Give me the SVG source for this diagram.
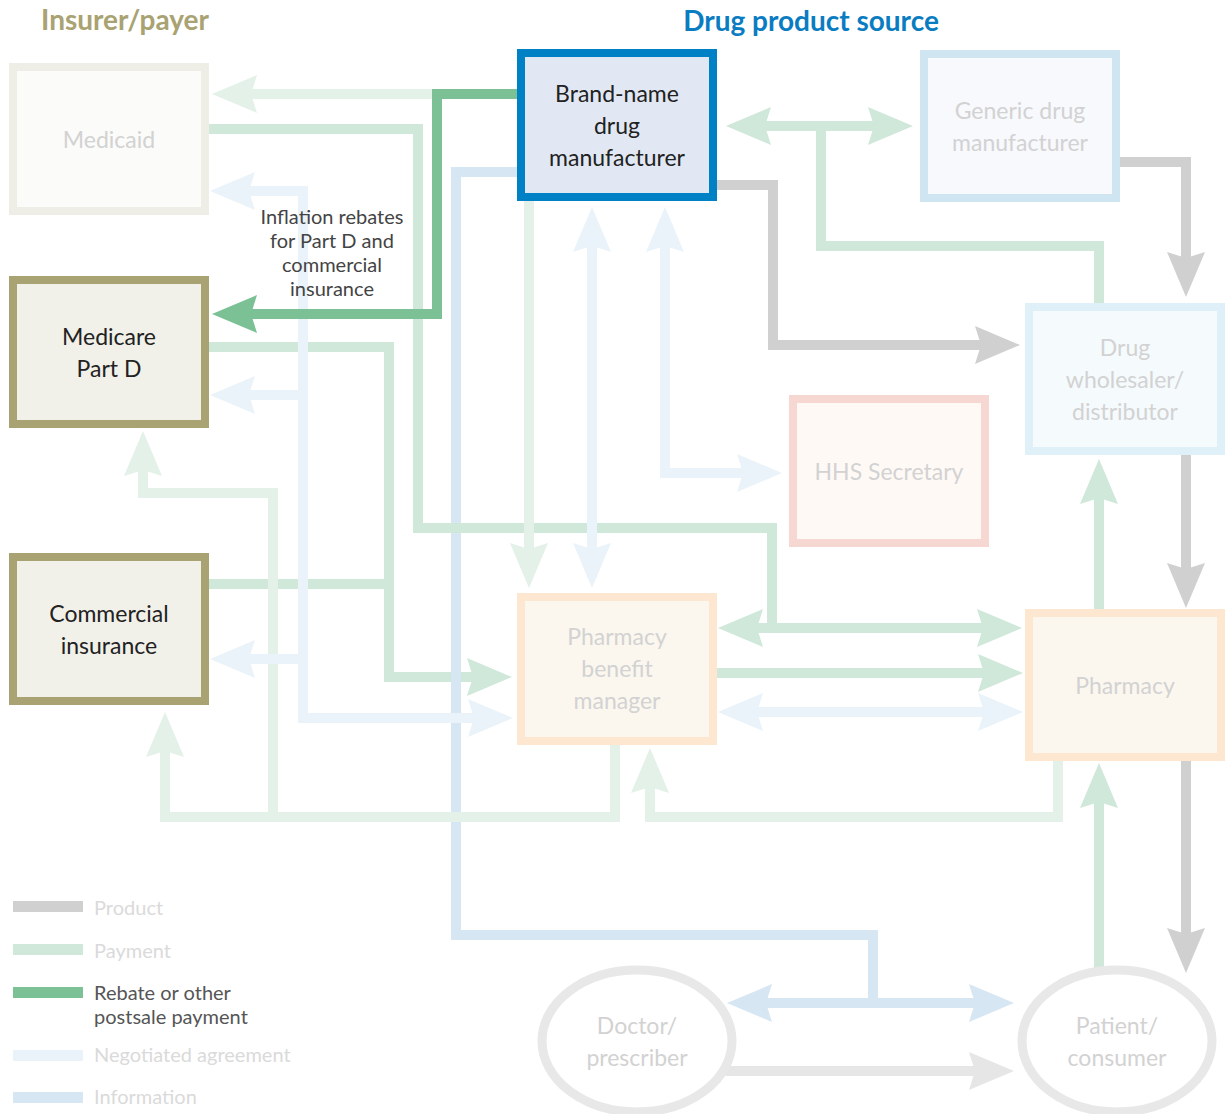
<svg xmlns="http://www.w3.org/2000/svg" width="1225" height="1114" viewBox="0 0 1225 1114">
<style>
text{font-family:Lato,"Open Sans","Liberation Sans",sans-serif}
.c{fill:none;stroke-width:10}
.p1{stroke:#d0d0d0}.p2{stroke:#e6e6e6}.g1{stroke:#cfe8da}.g2{stroke:#e3f1e8}.r{stroke:#7bc195}.n{stroke:#eaf3f9}.i{stroke:#d7e6f3}
.t{font-size:23px;text-anchor:middle}
.dk{fill:#222}.lt{fill:#d2d2d2}
.leg{font-size:20px;fill:#dadada}
.nb{stroke-width:8}
</style>
<defs>
<marker id="ap1" markerUnits="userSpaceOnUse" viewBox="0 -20 46 40" refX="8" refY="0" markerWidth="46" markerHeight="40" orient="auto-start-reverse"><path d="M0,-19L45,0L0,19L6,0Z" fill="#d0d0d0"/></marker>
<marker id="ap2" markerUnits="userSpaceOnUse" viewBox="0 -20 46 40" refX="8" refY="0" markerWidth="46" markerHeight="40" orient="auto-start-reverse"><path d="M0,-19L45,0L0,19L6,0Z" fill="#e6e6e6"/></marker>
<marker id="ag1" markerUnits="userSpaceOnUse" viewBox="0 -20 46 40" refX="8" refY="0" markerWidth="46" markerHeight="40" orient="auto-start-reverse"><path d="M0,-19L45,0L0,19L6,0Z" fill="#cfe8da"/></marker>
<marker id="ag2" markerUnits="userSpaceOnUse" viewBox="0 -20 46 40" refX="8" refY="0" markerWidth="46" markerHeight="40" orient="auto-start-reverse"><path d="M0,-19L45,0L0,19L6,0Z" fill="#e3f1e8"/></marker>
<marker id="ar" markerUnits="userSpaceOnUse" viewBox="0 -20 46 40" refX="8" refY="0" markerWidth="46" markerHeight="40" orient="auto-start-reverse"><path d="M0,-19L45,0L0,19L6,0Z" fill="#7bc195"/></marker>
<marker id="an" markerUnits="userSpaceOnUse" viewBox="0 -20 46 40" refX="8" refY="0" markerWidth="46" markerHeight="40" orient="auto-start-reverse"><path d="M0,-19L45,0L0,19L6,0Z" fill="#eaf3f9"/></marker>
<marker id="ai" markerUnits="userSpaceOnUse" viewBox="0 -20 46 40" refX="8" refY="0" markerWidth="46" markerHeight="40" orient="auto-start-reverse"><path d="M0,-19L45,0L0,19L6,0Z" fill="#d7e6f3"/></marker>
</defs>
<rect width="1225" height="1114" fill="#fff"/>
<text x="125" y="30" style="font-size:28px;font-weight:bold;fill:#a9a272;text-anchor:middle">Insurer/payer</text>
<text x="811" y="31" style="font-size:28px;font-weight:bold;fill:#0a7cc1;text-anchor:middle">Drug product source</text>
<g id="connectors">
<path class="c g1" d="M209,347H389V677H475" marker-end="url(#ag1)"/>
<path class="c g1" d="M209,584H389"/>
<path class="c g1" d="M717,673H986" marker-end="url(#ag1)"/>
<path class="c g1" d="M763,126H876" marker-start="url(#ag1)" marker-end="url(#ag1)"/>
<path class="c g1" d="M1099,303V246H821V126"/>
<path class="c g1" d="M1099,609V496" marker-end="url(#ag1)"/>
<path class="c g1" d="M1099,968V800" marker-end="url(#ag1)"/>
<path class="c i" d="M517,172H456V935H873V1003"/>
<path class="c i" d="M764,1003H977" marker-start="url(#ai)" marker-end="url(#ai)"/>
<path class="c g1" d="M209,129H418V528H772V628H985" marker-end="url(#ag1)"/>
<path class="c g1" d="M777,628H755" marker-end="url(#ag1)"/>
<path class="c g2" d="M517,94H249" marker-end="url(#ag2)"/>
<path class="c g2" d="M529,201V551" marker-end="url(#ag2)"/>
<path class="c g2" d="M615,745V817H165V749" marker-end="url(#ag2)"/>
<path class="c g2" d="M273,817V493H143V468" marker-end="url(#ag2)"/>
<path class="c g2" d="M1058,761V817H650V785" marker-end="url(#ag2)"/>
<path class="c n" d="M247,191H303V718H476" marker-start="url(#an)" marker-end="url(#an)"/>
<path class="c n" d="M303,395H247" marker-end="url(#an)"/>
<path class="c n" d="M303,659H247" marker-end="url(#an)"/>
<path class="c n" d="M592,244V551" marker-start="url(#an)" marker-end="url(#an)"/>
<path class="c n" d="M665,244V473H745" marker-start="url(#an)" marker-end="url(#an)"/>
<path class="c n" d="M755,712H986" marker-start="url(#an)" marker-end="url(#an)"/>
<path class="c p1" d="M717,185H773V345H983" marker-end="url(#ap1)"/>
<path class="c p1" d="M1120,162H1186V260" marker-end="url(#ap1)"/>
<path class="c p1" d="M1186,455V571" marker-end="url(#ap1)"/>
<path class="c p1" d="M1186,761V936" marker-end="url(#ap1)"/>
<path class="c p2" d="M726,1071H977" marker-end="url(#ap2)"/>
<path class="c r" d="M517,94H437V314H249" marker-end="url(#ar)"/>
</g>
<g id="medicaid"><rect class="nb" x="13" y="67" width="192" height="144" fill="#fbfbf9" stroke="#eeeee6"/><text class="t lt" x="109" y="148">Medicaid</text></g>
<g id="medicare"><rect class="nb" x="13" y="280" width="192" height="144" fill="#f1f1e9" stroke="#a9a272"/><text class="t dk" x="109" y="345">Medicare</text><text class="t dk" x="109" y="377">Part D</text></g>
<g id="commercial"><rect class="nb" x="13" y="557" width="192" height="144" fill="#f1f1e9" stroke="#a9a272"/><text class="t dk" x="109" y="622">Commercial</text><text class="t dk" x="109" y="654">insurance</text></g>
<g id="brand"><rect class="nb" x="521" y="53" width="192" height="144" fill="#e1e8f4" stroke="#0081c6"/><text class="t dk" x="617" y="102">Brand-name</text><text class="t dk" x="617" y="134">drug</text><text class="t dk" x="617" y="166">manufacturer</text></g>
<g id="generic"><rect class="nb" x="924" y="54" width="192" height="144" fill="#f7f9fd" stroke="#cfe5f1"/><text class="t lt" x="1020" y="119">Generic drug</text><text class="t lt" x="1020" y="151">manufacturer</text></g>
<g id="wholesaler"><rect class="nb" x="1029" y="307" width="192" height="144" fill="#f5fafd" stroke="#dff0f8"/><text class="t lt" x="1125" y="356">Drug</text><text class="t lt" x="1125" y="388">wholesaler/</text><text class="t lt" x="1125" y="420">distributor</text></g>
<g id="hhs"><rect class="nb" x="793" y="399" width="192" height="144" fill="#fff9f6" stroke="#f6d7d1"/><text class="t lt" x="889" y="480">HHS Secretary</text></g>
<g id="pbm"><rect class="nb" x="521" y="597" width="192" height="144" fill="#fbf7ef" stroke="#fde7d1"/><text class="t lt" x="617" y="645">Pharmacy</text><text class="t lt" x="617" y="677">benefit</text><text class="t lt" x="617" y="709">manager</text></g>
<g id="pharmacy"><rect class="nb" x="1029" y="613" width="192" height="144" fill="#fbf7ef" stroke="#fde7d1"/><text class="t lt" x="1125" y="694">Pharmacy</text></g>
<g id="doctor"><ellipse cx="637" cy="1041" rx="95" ry="71" fill="#fff" stroke="#e8e8e8" stroke-width="9"/><text class="t lt" x="637" y="1034">Doctor/</text><text class="t lt" x="637" y="1066">prescriber</text></g>
<g id="patient"><ellipse cx="1117" cy="1041" rx="95" ry="71" fill="#fff" stroke="#e8e8e8" stroke-width="9"/><text class="t lt" x="1117" y="1034">Patient/</text><text class="t lt" x="1117" y="1066">consumer</text></g>
<g id="inflation-label" style="font-size:20px;fill:#444;text-anchor:middle"><text x="332" y="224">Inflation rebates</text><text x="332" y="248">for Part D and</text><text x="332" y="272">commercial</text><text x="332" y="296">insurance</text></g>
<g id="legend">
<rect x="13" y="901" width="70" height="11" fill="#d0d0d0"/><text class="leg" x="94" y="915">Product</text>
<rect x="13" y="944" width="70" height="11" fill="#cfe8da"/><text class="leg" x="94" y="958">Payment</text>
<rect x="13" y="987" width="70" height="11" fill="#7bc195"/><text class="leg" x="94" y="1000" style="fill:#555">Rebate or other</text><text class="leg" x="94" y="1024" style="fill:#555">postsale payment</text>
<rect x="13" y="1050" width="70" height="11" fill="#eaf3f9"/><text class="leg" x="94" y="1062">Negotiated agreement</text>
<rect x="13" y="1092" width="70" height="11" fill="#d7e6f3"/><text class="leg" x="94" y="1104">Information</text>
</g>
</svg>
